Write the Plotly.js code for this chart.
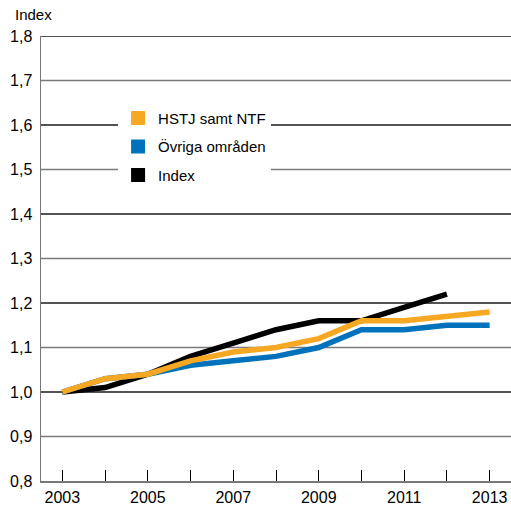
<!DOCTYPE html>
<html>
<head>
<meta charset="utf-8">
<script src="https://cdn.plot.ly/plotly-3.0.1.min.js"></script>
<style>html,body{margin:0;padding:0;background:#fff;}#chart{width:511px;height:506px;}</style>
</head>
<body>
<div id="chart"></div>
<script>
var years = [2003, 2004, 2005, 2006, 2007, 2008, 2009, 2010, 2011, 2012, 2013];
var hstj = [1.00, 1.03, 1.04, 1.07, 1.09, 1.10, 1.12, 1.16, 1.16, 1.17, 1.18];
var ovriga = [1.00, 1.03, 1.04, 1.06, 1.07, 1.08, 1.10, 1.14, 1.14, 1.15, 1.15];
var indexYears = [2003, 2004, 2005, 2006, 2007, 2008, 2009, 2010, 2011, 2012];
var indexVals = [1.00, 1.01, 1.04, 1.08, 1.11, 1.14, 1.16, 1.16, 1.19, 1.22];
var seriesNames = ['HSTJ samt NTF', 'Övriga områden', 'Index'];
var seriesColors = ['#F7A823', '#0072BB', '#000000'];
var yTickVals = [0.8, 0.9, 1.0, 1.1, 1.2, 1.3, 1.4, 1.5, 1.6, 1.7, 1.8];
var yTickText = ['0,8', '0,9', '1,0', '1,1', '1,2', '1,3', '1,4', '1,5', '1,6', '1,7', '1,8'];
var xTickText = years.map(function (y) { return (y % 2 === 1) ? String(y) : ''; });

var FONT = '"Liberation Sans", Arial, Helvetica, sans-serif';

var traces = [
  {x: indexYears, y: indexVals, mode: 'lines', line: {color: seriesColors[2], width: 5.5}, showlegend: false, hoverinfo: 'skip'},
  {x: years, y: ovriga, mode: 'lines', line: {color: seriesColors[1], width: 5.5}, showlegend: false, hoverinfo: 'skip'},
  {x: years, y: hstj, mode: 'lines', line: {color: seriesColors[0], width: 5.5}, showlegend: false, hoverinfo: 'skip'}
];
for (var i = 0; i < seriesNames.length; i++) {
  traces.push({
    x: [null], y: [null], mode: 'markers', name: seriesNames[i],
    legendgroup: 'g' + i,
    marker: {symbol: 'square', size: 14, color: seriesColors[i]},
    showlegend: true
  });
}

var layout = {
  width: 511, height: 506,
  margin: {l: 41, r: 0, t: 36, b: 25},
  paper_bgcolor: '#fff', plot_bgcolor: 'rgba(0,0,0,0)',
  font: {family: FONT, size: 15, color: '#000'},
  showlegend: true,
  legend: {
    x: 0.164, y: 0.852, xanchor: 'left', yanchor: 'top',
    bgcolor: '#fff', borderwidth: 0,
    traceorder: 'grouped', tracegroupgap: 6,
    font: {family: FONT, size: 15, color: '#000'}
  },
  xaxis: {
    range: [2002.5, 2013.5],
    tickvals: years, ticktext: xTickText,
    ticks: 'inside', ticklen: 11, tickcolor: '#000', tickwidth: 1,
    ticklabelstandoff: 1,
    showgrid: false, zeroline: false,
    showline: true, linecolor: '#777', linewidth: 1.5,
    tickfont: {family: FONT, size: 16, color: '#000'},
    fixedrange: true
  },
  yaxis: {
    range: [0.8, 1.8],
    tickvals: yTickVals, ticktext: yTickText,
    ticks: 'outside', ticklen: 4, tickcolor: 'rgba(0,0,0,0)',
    showgrid: false, zeroline: false,
    showline: true, linecolor: '#777', linewidth: 1.5,
    tickfont: {family: FONT, size: 16, color: '#000'},
    fixedrange: true
  },
  shapes: [],
  annotations: [{
    text: 'Index', xref: 'paper', yref: 'paper',
    x: -0.06, y: 1.024, xanchor: 'left', yanchor: 'bottom',
    showarrow: false, font: {family: FONT, size: 15, color: '#000'}
  }]
};
// gridlines: even tenths dark, odd tenths gray (drawn below traces)
yTickVals.forEach(function (v, k) {
  if (k === 0) return;
  layout.shapes.push({
    type: 'line', xref: 'paper', yref: 'y', x0: 0, x1: 1, y0: v, y1: v,
    layer: 'below',
    line: {color: (k % 2 === 0) ? '#1a1a1a' : '#7a7a7a', width: 1.3}
  });
});

Plotly.newPlot('chart', traces, layout, {staticPlot: true, displayModeBar: false});
</script>
</body>
</html>
